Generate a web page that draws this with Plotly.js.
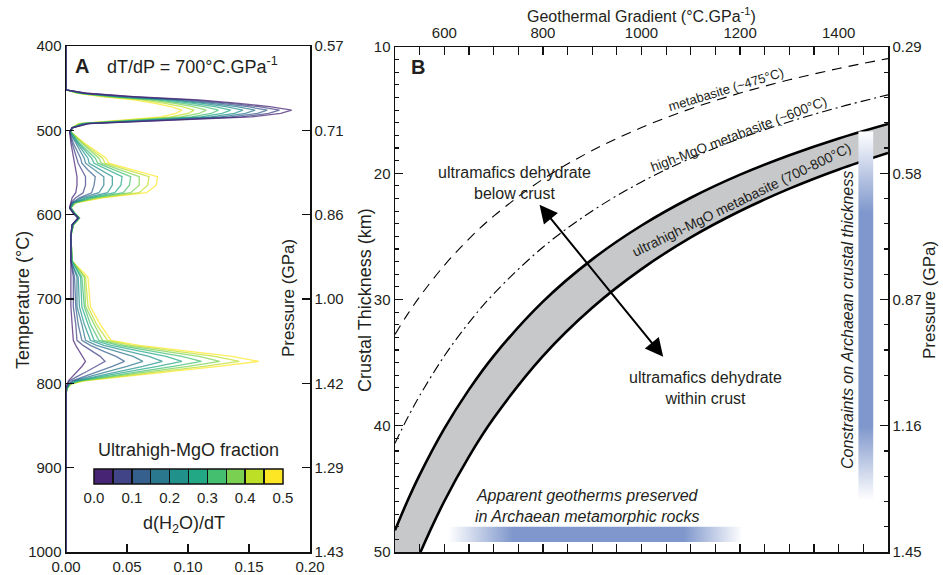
<!DOCTYPE html>
<html><head><meta charset="utf-8">
<script src="https://cdn.plot.ly/plotly-3.0.1.min.js"></script>
<style>html,body{margin:0;padding:0;background:#fff}#chart{width:943px;height:575px}</style>
</head><body><div id="chart"></div>
<script>
// ---------- Panel A data: d(H2O)/dT vs temperature, one curve per ultrahigh-MgO fraction ----------
const temperatureC = [400,452,456,460,464,468,472,476,480,484,488,492,497,
  502,515,533,539,547,555,565,574,580,586,592,
  598,604,612,625,655,
  674,709,730,749,755,762,768,774,780,786,792,797,801,806,812,1000];
const fractionLabels = ['0.00','0.05','0.10','0.15','0.20','0.25','0.30','0.35','0.40','0.45'];
const dH2O_000 = [0,0,0.017,0.056,0.109,0.142,0.167,0.185,0.176,0.152,0.089,0.019,0.005,
  0.003,0.004,0.006,0.007,0.008,0.009,0.009,0.008,0.005,0.004,0.003,
  0.006,0.010,0.005,0.004,0.004,
  0.004,0.004,0.005,0.006,0.008,0.011,0.014,0.016,0.013,0.009,0.005,0.002,0.001,0,0,0];
const dH2O_005 = [0,0,0.016,0.053,0.103,0.135,0.158,0.175,0.166,0.144,0.084,0.018,0.005,
  0.003,0.005,0.009,0.010,0.013,0.016,0.016,0.014,0.008,0.004,0.003,
  0.006,0.010,0.005,0.004,0.004,
  0.006,0.006,0.008,0.009,0.014,0.021,0.028,0.032,0.025,0.017,0.009,0.003,0.001,0,0,0];
const dH2O_010 = [0,0,0.015,0.050,0.097,0.127,0.149,0.165,0.157,0.135,0.079,0.017,0.005,
  0.003,0.006,0.012,0.013,0.018,0.024,0.023,0.021,0.011,0.005,0.003,
  0.006,0.010,0.005,0.004,0.004,
  0.007,0.008,0.010,0.013,0.020,0.031,0.041,0.048,0.038,0.026,0.014,0.005,0.002,0,0,0];
const dH2O_015 = [0,0,0.014,0.047,0.091,0.119,0.140,0.155,0.147,0.127,0.074,0.016,0.005,
  0.003,0.008,0.015,0.016,0.024,0.031,0.031,0.027,0.013,0.005,0.003,
  0.006,0.010,0.005,0.004,0.004,
  0.009,0.009,0.013,0.016,0.025,0.041,0.055,0.063,0.050,0.034,0.018,0.006,0.002,0,0,0];
const dH2O_020 = [0,0,0.013,0.044,0.086,0.112,0.131,0.145,0.138,0.119,0.070,0.015,0.005,
  0.003,0.009,0.018,0.019,0.029,0.038,0.038,0.034,0.016,0.006,0.003,
  0.006,0.010,0.005,0.004,0.004,
  0.010,0.011,0.015,0.020,0.031,0.051,0.068,0.079,0.063,0.043,0.023,0.008,0.002,0,0,0];
const dH2O_025 = [0,0,0.012,0.041,0.080,0.104,0.122,0.135,0.128,0.111,0.065,0.014,0.005,
  0.004,0.010,0.021,0.023,0.034,0.046,0.045,0.040,0.019,0.006,0.004,
  0.007,0.011,0.006,0.004,0.005,
  0.012,0.013,0.018,0.023,0.037,0.062,0.082,0.095,0.075,0.051,0.027,0.009,0.003,0.001,0,0];
const dH2O_030 = [0,0,0.011,0.038,0.074,0.096,0.113,0.125,0.119,0.103,0.060,0.013,0.005,
  0.004,0.011,0.024,0.026,0.039,0.053,0.052,0.047,0.022,0.007,0.004,
  0.007,0.011,0.006,0.004,0.005,
  0.013,0.015,0.020,0.027,0.043,0.072,0.095,0.111,0.088,0.060,0.032,0.011,0.003,0.001,0,0];
const dH2O_035 = [0,0,0.010,0.035,0.068,0.089,0.104,0.115,0.109,0.094,0.055,0.012,0.005,
  0.004,0.013,0.027,0.029,0.045,0.060,0.060,0.053,0.024,0.007,0.004,
  0.007,0.011,0.006,0.004,0.005,
  0.015,0.016,0.023,0.030,0.048,0.082,0.109,0.126,0.100,0.068,0.036,0.012,0.003,0.001,0,0];
const dH2O_040 = [0,0,0.009,0.032,0.062,0.081,0.095,0.105,0.100,0.086,0.050,0.011,0.005,
  0.004,0.014,0.030,0.032,0.050,0.068,0.067,0.060,0.027,0.008,0.004,
  0.007,0.011,0.006,0.004,0.005,
  0.016,0.018,0.025,0.034,0.054,0.092,0.122,0.142,0.113,0.077,0.041,0.014,0.004,0.001,0,0];
const dH2O_045 = [0,0,0.009,0.029,0.056,0.073,0.086,0.095,0.090,0.078,0.046,0.010,0.005,
  0.004,0.015,0.033,0.035,0.055,0.075,0.074,0.066,0.030,0.008,0.004,
  0.007,0.011,0.006,0.004,0.005,
  0.018,0.020,0.028,0.037,0.060,0.102,0.136,0.158,0.125,0.085,0.045,0.015,0.004,0.001,0,0];
const curveColors = ['#482475','#414487','#355f8d','#2a788e','#21918c','#22a884','#44bf70','#7ad151','#bddf26','#fde725'];
const tempTicks = [400,500,600,700,800,900,1000];
const pressureTicksA = ['0.57','0.71','0.86','1.00','1.42','1.29','1.43'];
const dH2OTicks = [0,0.05,0.10,0.15,0.20];
const dH2OTickText = ['0.00','0.05','0.10','0.15','0.20'];

// ---------- Panel B data: crustal thickness at which dehydration occurs vs geothermal gradient ----------
const gradient = [500,525,550,600,650,700,800,900,1000,1100,1200,1300,1400,1500];
const thickMetabasite475 = [32.76,31.20,29.78,27.30,25.20,23.40,20.47,18.20,16.38,14.89,13.65,12.60,11.70,10.92];
const thickHighMgO600   = [41.38,39.41,37.62,34.48,31.83,29.56,25.86,22.99,20.69,18.81,17.24,15.92,14.78,13.79];
const thickUltraHigh700 = [48.28,45.98,43.89,40.23,37.14,34.48,30.17,26.82,24.14,21.94,20.11,18.57,17.24,16.09];
const thickUltraHigh800 = [55.17,52.55,50.16,45.98,42.44,39.41,34.48,30.65,27.59,25.08,22.99,21.22,19.70,18.39];
const archaeanGeotherms = [608, 1205];      // °C/GPa, apparent geotherms range
const archaeanCrust = [16.7, 45.9];         // km, constraints on crustal thickness
const depthTicks = [10,20,30,40,50];
const pressureTicksB = ['0.29','0.58','0.87','1.16','1.45'];
const gradTicks = [600,800,1000,1200,1400];

// ---------- helpers ----------
const W = 943, H = 575;
const px = v => v / W, py = v => 1 - v / H;
const FONT = 'Liberation Sans, Arial, Helvetica, sans-serif';
const INK = '#231f20';

const curves = [dH2O_000,dH2O_005,dH2O_010,dH2O_015,dH2O_020,dH2O_025,dH2O_030,dH2O_035,dH2O_040,dH2O_045];
const traces = [];
for (let i = curves.length - 1; i >= 0; i--) {
  traces.push({type:'scatter', mode:'lines', x:curves[i], y:temperatureC, xaxis:'x', yaxis:'y',
    name:fractionLabels[i], line:{color:curveColors[i], width:1.3}, opacity:0.75,
    hoverinfo:'skip', showlegend:false});
}
// colour bar carrier
const cs = [];
curveColors.forEach((c,i)=>{cs.push([i/10,c]);cs.push([(i+1)/10,c]);});
traces.push({type:'scatter', mode:'markers', x:[-1], y:[-100], xaxis:'x', yaxis:'y',
  marker:{color:[0], cmin:0, cmax:0.5, colorscale:cs, showscale:true, size:1,
    colorbar:{orientation:'h', x:px(188.5), xanchor:'center', y:py(449), yanchor:'top',
      len:189, lenmode:'pixels', thickness:15, thicknessmode:'pixels', xpad:0, ypad:0,
      outlinewidth:1.5, outlinecolor:'#111',
      tickmode:'linear', tick0:0, dtick:0.05, ticklabelstep:2, tickformat:'.1f',
      ticks:'inside', ticklen:15, tickwidth:1.5, tickcolor:'#111',
      tickfont:{size:15, color:INK, family:FONT},
      title:{text:'Ultrahigh-MgO fraction', side:'top', font:{size:18, color:INK, family:FONT}}}},
  hoverinfo:'skip', showlegend:false});
// dummy for right axis of panel A
traces.push({type:'scatter', mode:'markers', x:[null], y:[null], xaxis:'x', yaxis:'y2', showlegend:false, hoverinfo:'skip'});

// Panel B band
traces.push({type:'scatter', mode:'lines', x:gradient, y:thickUltraHigh700, xaxis:'x2', yaxis:'y3',
  line:{color:'#000', width:2.6, shape:'spline'}, showlegend:false, hoverinfo:'skip'});
traces.push({type:'scatter', mode:'lines', x:gradient, y:thickUltraHigh800, xaxis:'x2', yaxis:'y3',
  line:{color:'#000', width:2.6, shape:'spline'}, fill:'tonexty', fillcolor:'#c7c8ca', showlegend:false, hoverinfo:'skip'});
traces.push({type:'scatter', mode:'lines', x:gradient, y:thickMetabasite475, xaxis:'x2', yaxis:'y3',
  line:{color:'#000', width:1.1, dash:'10px,7px', shape:'spline'}, showlegend:false, hoverinfo:'skip'});
traces.push({type:'scatter', mode:'lines', x:gradient, y:thickHighMgO600, xaxis:'x2', yaxis:'y3',
  line:{color:'#000', width:1.1, dash:'10px,4px,2px,4px', shape:'spline'}, showlegend:false, hoverinfo:'skip'});
// Apparent geotherms bar (horizontal gradient)
traces.push({type:'scatter', mode:'lines', xaxis:'x2', yaxis:'y3',
  x:[archaeanGeotherms[0],archaeanGeotherms[1],archaeanGeotherms[1],archaeanGeotherms[0],archaeanGeotherms[0]],
  y:[48.0,48.0,49.2,49.2,48.0], fill:'toself', line:{width:0, color:'rgba(0,0,0,0)'},
  fillgradient:{type:'horizontal', colorscale:[[0,'#ffffff'],[0.22,'#7f97cc'],[0.8,'#7f97cc'],[1,'#ffffff']]},
  showlegend:false, hoverinfo:'skip'});
// Crustal thickness constraint bar (vertical gradient)
traces.push({type:'scatter', mode:'lines', xaxis:'x2', yaxis:'y3',
  x:[1440,1470,1470,1440,1440],
  y:[archaeanCrust[0],archaeanCrust[0],archaeanCrust[1],archaeanCrust[1],archaeanCrust[0]], fill:'toself', line:{width:0, color:'rgba(0,0,0,0)'},
  fillgradient:{type:'vertical', colorscale:[[0,'#ffffff'],[0.2,'#7f97cc'],[0.78,'#7f97cc'],[1,'#ffffff']]},
  showlegend:false, hoverinfo:'skip'});
traces.push({type:'scatter', mode:'markers', x:[null], y:[null], xaxis:'x2', yaxis:'y4', showlegend:false, hoverinfo:'skip'});

const axBase = {showline:true, linewidth:1.5, linecolor:'#111', ticks:'inside', ticklen:8, tickwidth:1.4,
  tickcolor:'#111', showgrid:false, zeroline:false, tickfont:{size:15, color:INK, family:FONT}, fixedrange:true};

const ann = [];
function T(text, x, y, size, extra) { ann.push(Object.assign({text, x:px(x), y:py(y), xref:'paper', yref:'paper',
  showarrow:false, xanchor:'center', yanchor:'middle', font:{size, color:INK, family:FONT}}, extra||{})); }
T('<b>A</b>', 82, 66, 20);
T('dT/dP = 700°C.GPa<sup>-1</sup>', 192, 66, 18);
T('d(H<sub>2</sub>O)/dT', 184, 524, 18);
T('Temperature (°C)', 23, 300, 18, {textangle:-90});
T('Pressure (GPa)', 288, 298, 17, {textangle:-90});
T('Geothermal Gradient (°C.GPa<sup>-1</sup>)', 641, 15, 16);
T('<b>B</b>', 418, 67, 20);
T('Crustal Thickness (km)', 365, 300, 18, {textangle:-90});
T('Pressure (GPa)', 929, 300, 17, {textangle:-90});
T('ultramafics dehydrate<br>below crust', 514, 183, 16);
T('ultramafics dehydrate<br>within crust', 705, 388, 16);
T('<i>Apparent geotherms preserved<br>in Archaean metamorphic rocks</i>', 587, 506, 16);
T('<i>Constraints on Archaean crustal thickness</i>', 847, 320, 16, {textangle:-90});
T('metabasite (~475°C)', 726, 89, 13, {textangle:-17});
T('high-MgO metabasite (~600°C)', 738, 134, 13.5, {textangle:-21});
T('ultrahigh-MgO metabasite (700-800°C)', 741, 200, 14, {textangle:-26});
ann.push({xref:'x2', yref:'y3', axref:'x2', ayref:'y3', x:1044, y:34.53, ax:790.7, ay:22.38,
  showarrow:true, arrowside:'end+start', arrowhead:2, startarrowhead:2, arrowsize:1.8, startarrowsize:1.8,
  arrowwidth:2, arrowcolor:'#000', text:''});

const layout = {
  width:W, height:H, margin:{l:0,r:0,t:0,b:0}, paper_bgcolor:'#fff', plot_bgcolor:'rgba(0,0,0,0)',
  font:{family:FONT, color:INK}, showlegend:false,
  xaxis: Object.assign({}, axBase, {domain:[px(66), px(310)], range:[0,0.2], anchor:'y',
    tickmode:'array', tickvals:dH2OTicks, ticktext:dH2OTickText, mirror:true}),
  yaxis: Object.assign({}, axBase, {domain:[23/575, py(46)], range:[1000,400], anchor:'x',
    tickmode:'array', tickvals:tempTicks, mirror:true}),
  yaxis2: Object.assign({}, axBase, {overlaying:'y', side:'right', anchor:'x', range:[1000,400],
    tickmode:'array', tickvals:tempTicks, ticktext:pressureTicksA}),
  xaxis2: Object.assign({}, axBase, {domain:[px(395), px(888)], range:[500,1500], anchor:'y3', side:'top',
    tickmode:'array', tickvals:gradTicks, mirror:'allticks', ticklabelstandoff:2,
    minor:{tickmode:'linear', tick0:500, dtick:50, ticks:'inside', ticklen:4, tickwidth:1.2, tickcolor:'#111'}}),
  yaxis3: Object.assign({}, axBase, {domain:[23/575, py(47)], range:[50,10], anchor:'x2',
    tickmode:'array', tickvals:depthTicks,
    minor:{tickmode:'linear', tick0:10, dtick:1, ticks:'inside', ticklen:4, tickwidth:1.2, tickcolor:'#111'}}),
  yaxis4: Object.assign({}, axBase, {overlaying:'y3', side:'right', anchor:'x2', range:[50,10],
    tickmode:'array', tickvals:depthTicks, ticktext:pressureTicksB,
    minor:{tickmode:'linear', tick0:10, dtick:2, ticks:'inside', ticklen:4, tickwidth:1.2, tickcolor:'#111'}}),
  annotations: ann
};
Plotly.newPlot('chart', traces, layout, {displayModeBar:false, staticPlot:true});
</script></body></html>
